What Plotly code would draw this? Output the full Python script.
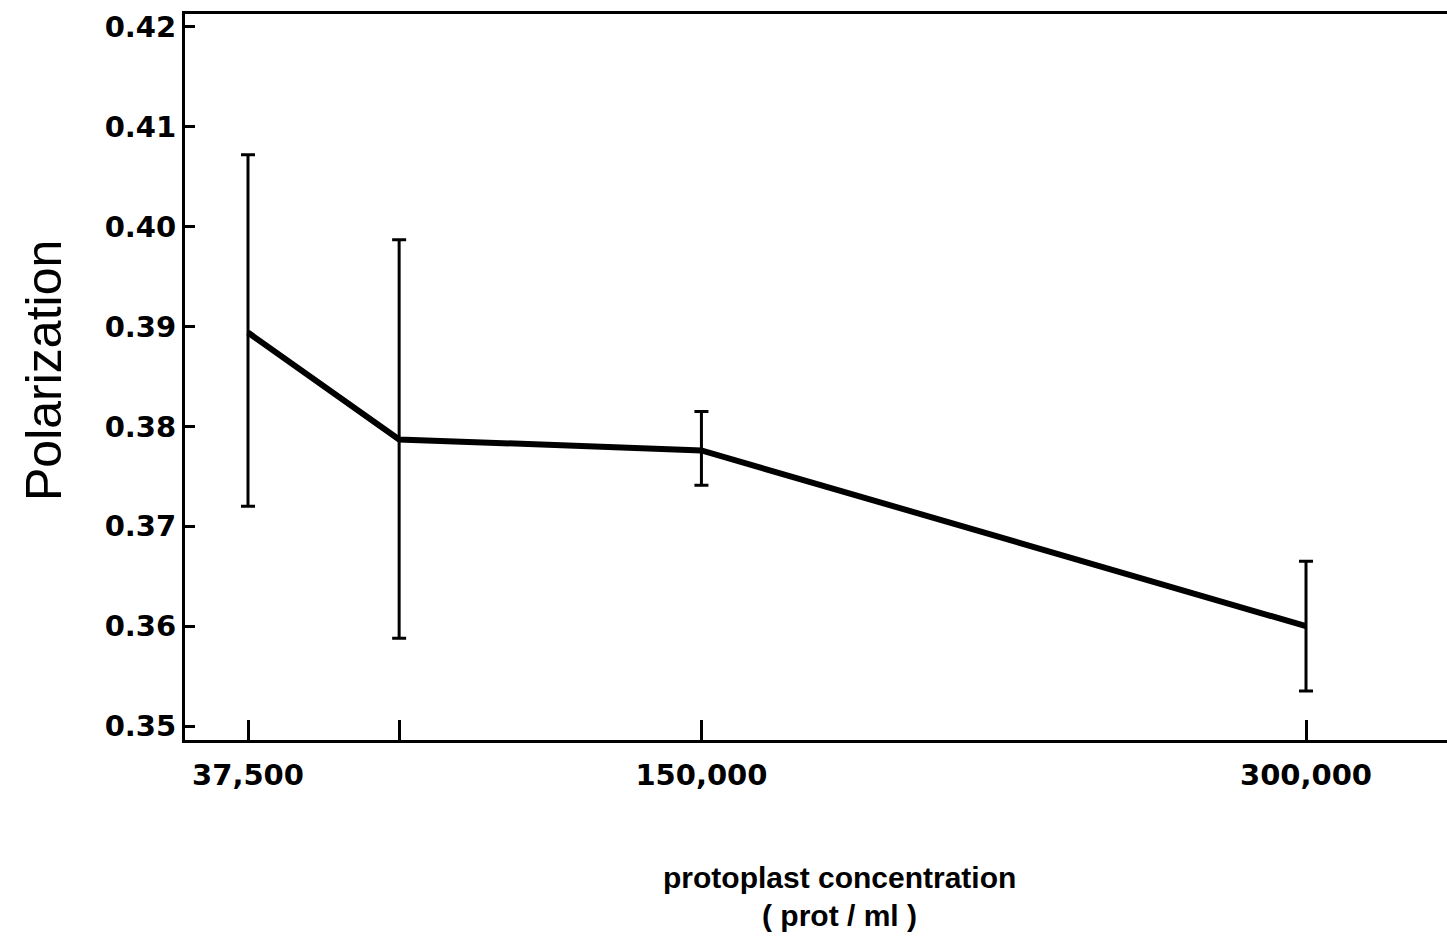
import plotly.graph_objects as go

# Protoplast concentration (prot/ml) and measured fluorescence polarization
concentration = [37500, 75000, 150000, 300000]
polarization = [0.3894, 0.3787, 0.3776, 0.3600]
err_upper = [0.0178, 0.0200, 0.0039, 0.0065]
err_lower = [0.0174, 0.0199, 0.0035, 0.0065]

x_tickvals = [37500, 75000, 150000, 300000]
x_ticktext = ["37,500", "", "150,000", "300,000"]
y_tickvals = [0.35, 0.36, 0.37, 0.38, 0.39, 0.40, 0.41, 0.42]
y_ticktext = ["0.35", "0.36", "0.37", "0.38", "0.39", "0.40", "0.41", "0.42"]

W, H = 1447, 941
L, T, R, B = 185, 14, 0, 201

fig = go.Figure()
fig.add_trace(go.Scatter(
    x=concentration, y=polarization, mode="lines",
    line=dict(color="black", width=6),
    error_y=dict(type="data", symmetric=False, array=err_upper,
                 arrayminus=err_lower, color="black", thickness=3, width=7),
    showlegend=False,
))

tick_font = dict(family="DejaVu Sans", size=29, color="black", weight="bold")

fig.update_xaxes(
    range=[21870, 334980], tickmode="array", tickvals=x_tickvals, ticktext=x_ticktext,
    ticks="inside", ticklen=20, tickwidth=3, tickcolor="black",
    showline=True, linecolor="black", linewidth=3, mirror=True,
    showgrid=False, zeroline=False, tickfont=tick_font, ticklabelstandoff=7,
)
fig.update_yaxes(
    range=[0.3486, 0.4213], tickmode="array", tickvals=y_tickvals, ticktext=y_ticktext,
    ticks="inside", ticklen=10, tickwidth=3, tickcolor="black",
    showline=True, linecolor="black", linewidth=3, mirror=False,
    showgrid=False, zeroline=False, tickfont=tick_font,
)

pw, ph = W - L - R, H - T - B
def px(xp):
    return (xp - L) / pw
def py(yp):
    return (H - B - yp) / ph

fig.add_annotation(text="Polarization", xref="paper", yref="paper",
                   x=px(44), y=py(371), textangle=-90, showarrow=False,
                   xanchor="center", yanchor="middle",
                   font=dict(family="Liberation Sans", size=50, color="black"))
fig.add_annotation(text="protoplast concentration", xref="paper", yref="paper",
                   x=px(839), y=py(877), showarrow=False,
                   xanchor="center", yanchor="middle",
                   font=dict(family="Liberation Sans", size=30, color="black", weight="bold"))
fig.add_annotation(text="( prot / ml )", xref="paper", yref="paper",
                   x=px(839), y=py(915), showarrow=False,
                   xanchor="center", yanchor="middle",
                   font=dict(family="Liberation Sans", size=30, color="black", weight="bold"))

fig.update_layout(
    width=W, height=H, margin=dict(l=L, r=R, t=T, b=B),
    paper_bgcolor="white", plot_bgcolor="white",
)
fig.write_html("out.html")
